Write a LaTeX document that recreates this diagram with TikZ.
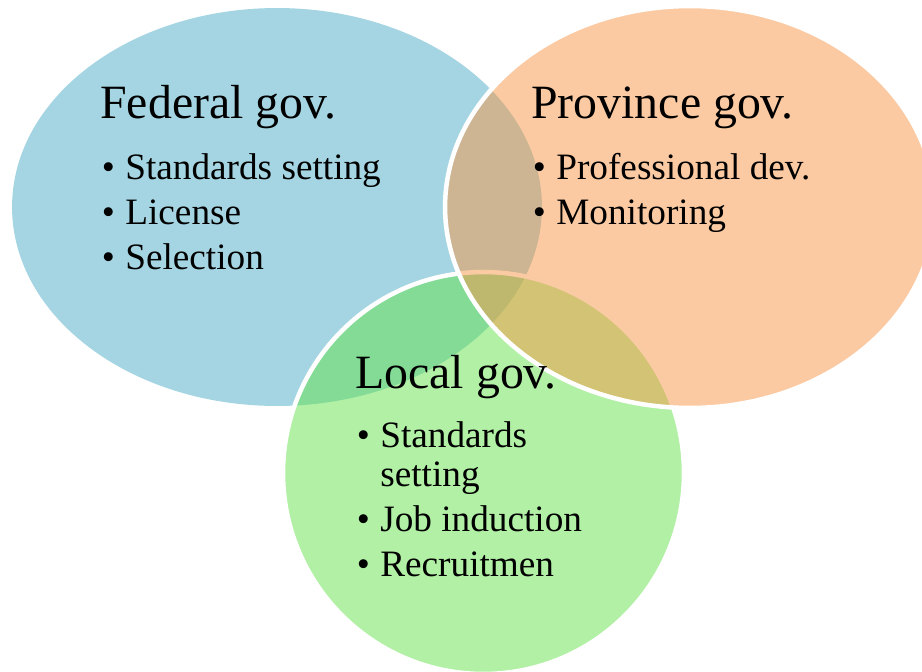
\documentclass[tikz,border=0pt]{standalone}
\usepackage{fontspec}
\setmainfont{Liberation Serif}
\usetikzlibrary{shapes.geometric}
\definecolor{fedblue}{HTML}{4BACC6}
\definecolor{provorange}{HTML}{F79646}
\definecolor{locgreen}{RGB}{99,225,75}
\newcommand{\bul}{\llap{\textbullet\hspace{0.21cm}}}

\begin{document}
\begin{tikzpicture}[
  x=0.02cm, y=-0.02cm,
  venn/.style={ellipse, inner sep=0pt, outer sep=0pt, fill opacity=0.5},
  rim/.style={draw=white, line width=0.09cm, draw opacity=1},
  head/.style={anchor=base west, inner sep=0pt, font=\fontsize{27.2}{32}\selectfont},
  entry/.style={anchor=base west, inner sep=0pt, font=\fontsize{21.2}{25}\selectfont},
]
\useasboundingbox (0,0) rectangle (922,672);
\clip (0,0) rectangle (922,672);

% three levels of government, each one laid over the last
\node[venn, fill=fedblue, minimum width=10.6cm, minimum height=7.96cm] (fed) at (277,207) {};
\node[venn, rim, fill=locgreen, minimum width=8.02cm, minimum height=8.04cm] (loc) at (483.5,473) {};
\node[venn, rim, fill=provorange, minimum width=9.8cm, minimum height=8.04cm] (prov) at (690,207) {};

% federal
\node[head] (fedhead) at (100,119) {Federal gov.};
\node[entry] (fed1) at (125,180) {\bul Standards setting};
\node[entry] (fed2) at (125,224) {\bul License};
\node[entry] (fed3) at (125,269) {\bul Selection};

% province
\node[head] (provhead) at (531,119) {Province gov.};
\node[entry] (prov1) at (556,180) {\bul Professional dev.};
\node[entry] (prov2) at (556,224) {\bul Monitoring};

% local
\node[head] (lochead) at (355,388) {Local gov.};
\node[entry] (loc1) at (380,447) {\bul Standards};
\node[entry] (loc1b) at (380,486) {setting};
\node[entry] (loc2) at (380,531) {\bul Job induction};
\node[entry] (loc3) at (380,576) {\bul Recruitmen};
\end{tikzpicture}
\end{document}
